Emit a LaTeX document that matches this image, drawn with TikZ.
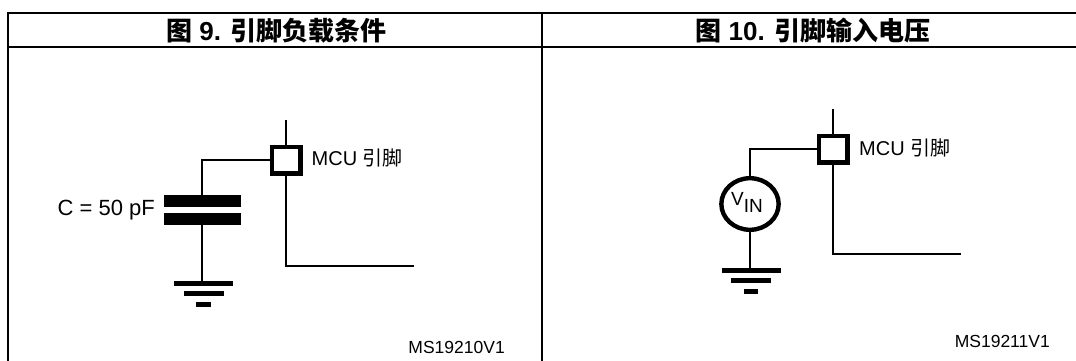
\documentclass[tikz,border=0pt]{standalone}
\usepackage{fontspec}
\usetikzlibrary{shapes.geometric}
\setmainfont{Liberation Sans}
\newfontfamily\cjk{Noto Sans CJK SC}
\newfontfamily\cjkb{Noto Sans CJK SC Bold}
\tikzset{
  x=1pt,y=-1pt,
  frameline/.style={line width=2pt},
  wire/.style={line width=2pt},
  padbox/.style={draw,line width=4.4pt,minimum width=28.6pt,minimum height=26.6pt,inner sep=0pt,fill=white},
  head/.style={inner sep=0pt,font=\fontsize{26}{26}\selectfont\bfseries},
  lab/.style={inner sep=0pt,anchor=base west,font=\fontsize{20}{20}\selectfont},
  clab/.style={inner sep=0pt,anchor=base east,font=\fontsize{22}{22}\selectfont},
  small/.style={inner sep=0pt,font=\fontsize{17.5}{18}\selectfont},
  bar/.style={fill=black,draw=none,inner sep=0pt},
}
\begin{document}
\begin{tikzpicture}
\useasboundingbox (0,0) rectangle (1076,361);
\draw[frameline] (8,361) -- (8,13) -- (1076,13);
\draw[frameline] (8,47) -- (1076,47);
\draw[frameline] (542,13) -- (542,361);
\node[head] (t1) at (276.5,30.5) {{\cjkb 图} 9. {\cjkb 引脚负载条件}};
\node[head] (t2) at (813,30.5) {{\cjkb 图} 10. {\cjkb 引脚输入电压}};
% left
\node[padbox] (p1) at (286,160) {};
\coordinate (p1top) at (286,119.5);
\coordinate (p1c) at (286,266);
\coordinate (p1end) at (414,266);
\coordinate (c1j) at (202,160);
\node[bar,minimum width=77pt,minimum height=12pt] (cap1) at (202.5,201) {};
\node[bar,minimum width=77pt,minimum height=12pt] (cap2) at (202.5,219) {};
\node[bar,minimum width=59.5pt,minimum height=5pt] (g1) at (203.5,283.5) {};
\node[bar,minimum width=40pt,minimum height=5pt] (g2) at (203.5,293.5) {};
\node[bar,minimum width=14.5pt,minimum height=4.6pt] (g3) at (203.5,304.3) {};
\draw[wire] (p1top) -- (p1.north);
\draw[wire] (p1.south) -- (p1c) -- (p1end);
\draw[wire] (p1.west) -- (c1j) -- (cap1.north -| c1j);
\draw[wire] (cap2.south -| c1j) -- (g1.north -| c1j);
\node[lab] (m1) at (311.5,165.5) {MCU {\cjk 引脚}};
\node[clab] (c1) at (155,215) {C = 50 pF};
\node[small,anchor=east] (ms1) at (505,347) {MS19210V1};
% right
\node[padbox] (p2) at (833,149) {};
\coordinate (p2top) at (833,109.3);
\coordinate (p2c) at (833,253.5);
\coordinate (p2end) at (961,253.5);
\coordinate (c2j) at (750,149);
\node[draw,ellipse,line width=4.4pt,minimum width=57.3pt,minimum height=51.6pt,inner sep=0pt] (vin) at (750,204) {};
\node[inner sep=0pt,anchor=base,font=\fontsize{19}{19}\selectfont] (vt) at (747,205.5) {V\raisebox{-7pt}{IN}};
\node[bar,minimum width=59pt,minimum height=5pt] (g4) at (751,270.5) {};
\node[bar,minimum width=40pt,minimum height=5pt] (g5) at (751,280.5) {};
\node[bar,minimum width=14.5pt,minimum height=4.6pt] (g6) at (751,291.2) {};
\draw[wire] (p2top) -- (p2.north);
\draw[wire] (p2.south) -- (p2c) -- (p2end);
\draw[wire] (p2.west) -- (c2j) -- (vin.north);
\draw[wire] (vin.south) -- (g4.north -| vin);
\node[lab] (m2) at (859,155) {MCU {\cjk 引脚}};
\node[small,anchor=east] (ms2) at (1050,341.5) {MS19211V1};
\end{tikzpicture}
\end{document}
